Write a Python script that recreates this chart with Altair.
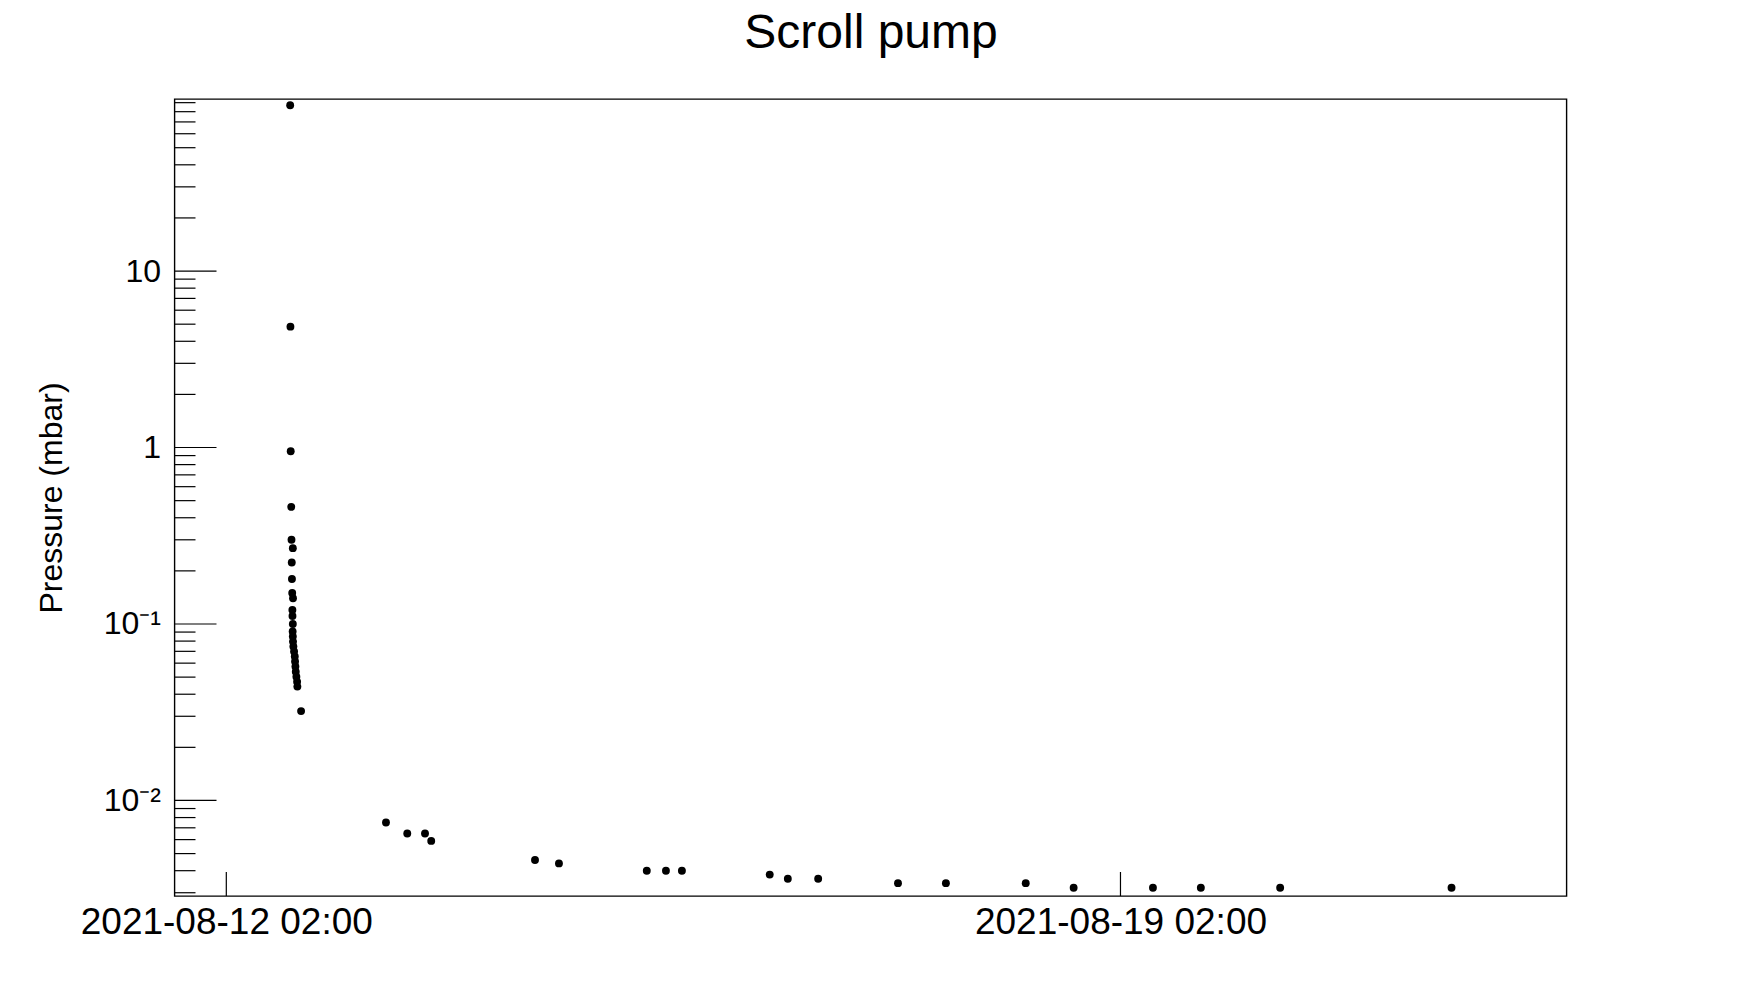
import altair as alt
import pandas as pd

# ---- data ----
times = [
    "2021-08-12T14:00:00Z", "2021-08-12T14:03:00Z", "2021-08-12T14:06:00Z",
    "2021-08-12T14:12:00Z", "2021-08-12T14:15:00Z", "2021-08-12T14:30:00Z",
    "2021-08-12T14:18:00Z", "2021-08-12T14:20:00Z", "2021-08-12T14:23:00Z",
    "2021-08-12T14:32:00Z", "2021-08-12T14:25:00Z", "2021-08-12T14:26:00Z",
    "2021-08-12T14:30:00Z", "2021-08-12T14:28:00Z", "2021-08-12T14:30:00Z",
    "2021-08-12T14:32:00Z", "2021-08-12T14:36:00Z", "2021-08-12T14:44:00Z",
    "2021-08-12T14:52:00Z", "2021-08-12T14:55:00Z", "2021-08-12T14:59:00Z",
    "2021-08-12T15:03:00Z", "2021-08-12T15:10:00Z", "2021-08-12T15:18:00Z",
    "2021-08-12T15:21:00Z", "2021-08-12T16:03:00Z",
    "2021-08-13T08:00:00Z", "2021-08-13T12:00:00Z", "2021-08-13T15:20:00Z",
    "2021-08-13T16:30:00Z", "2021-08-14T12:00:00Z", "2021-08-14T16:30:00Z",
    "2021-08-15T09:00:00Z", "2021-08-15T12:36:00Z", "2021-08-15T15:36:00Z",
    "2021-08-16T08:06:00Z", "2021-08-16T11:30:00Z", "2021-08-16T17:12:00Z",
    "2021-08-17T08:12:00Z", "2021-08-17T17:12:00Z", "2021-08-18T08:12:00Z",
    "2021-08-18T17:12:00Z", "2021-08-19T08:06:00Z", "2021-08-19T17:06:00Z",
    "2021-08-20T08:00:00Z", "2021-08-21T16:12:00Z",
]
pressure = [
    87.0, 4.84, 0.953,
    0.461, 0.300, 0.269,
    0.223, 0.180, 0.150,
    0.140, 0.120, 0.111,
    0.100, 0.0906, 0.0849,
    0.0795, 0.0745, 0.0698,
    0.0654, 0.0613, 0.0574,
    0.0537, 0.0503, 0.0471,
    0.0442, 0.0321,
    0.0075, 0.0065, 0.0065,
    0.0059, 0.0046, 0.0044,
    0.0040, 0.0040, 0.0040,
    0.0038, 0.0036, 0.0036,
    0.0034, 0.0034, 0.0034,
    0.0032, 0.0032, 0.0032,
    0.0032, 0.0032,
]

y_major = [0.01, 0.1, 1, 10]
y_minor = [0.003, 0.004, 0.005, 0.006, 0.007, 0.008, 0.009,
           0.02, 0.03, 0.04, 0.05, 0.06, 0.07, 0.08, 0.09,
           0.2, 0.3, 0.4, 0.5, 0.6, 0.7, 0.8, 0.9,
           2, 3, 4, 5, 6, 7, 8, 9,
           20, 30, 40, 50, 60, 70, 80, 90]
x_major = ["2021-08-12T02:00:00Z", "2021-08-19T02:00:00Z"]
title_text = ["Scroll pump"]

W, H = 1392, 797
FONT = "Liberation Sans"

df = pd.DataFrame({"time": times, "p": pressure})
df_ymaj = pd.DataFrame({"v": y_major})
df_ymin = pd.DataFrame({"v": y_minor})
df_xmaj = pd.DataFrame({"t": x_major})
df_title = pd.DataFrame({"label": title_text})

xscale = alt.Scale(type="utc",
                   domain=[alt.DateTime(year=2021, month=8, date=11, hours=16, minutes=16, utc=True),
                           alt.DateTime(year=2021, month=8, date=22, hours=13, minutes=48, utc=True)])
yscale = alt.Scale(type="log", domain=[0.002875, 94.4])

label_expr = ("datum.value > 5 ? '10' : datum.value > 0.5 ? '1' : "
              "datum.value > 0.05 ? '10\u207b\u00b9' : '10\u207b\u00b2'")

points = alt.Chart(df).mark_circle(size=62, color="black", opacity=1).encode(
    x=alt.X("time:T", scale=xscale,
            axis=alt.Axis(values=[alt.DateTime(year=2021, month=8, date=12, hours=2, utc=True),
                                  alt.DateTime(year=2021, month=8, date=19, hours=2, utc=True)],
                          format="%Y-%m-%d %H:%M", title=None, labelFontSize=37,
                          labelFont=FONT, labelColor="black", labelPadding=8,
                          labelLimit=600,
                          ticks=False, domain=False, grid=False)),
    y=alt.Y("p:Q", scale=yscale,
            axis=alt.Axis(values=y_major, labelExpr=label_expr, title="Pressure (mbar)",
                          labelFontSize=32, labelFont=FONT, labelColor="black",
                          labelPadding=14, ticks=False, domain=False, grid=False,
                          titleFont=FONT, titleFontSize=32, titleFontWeight="normal",
                          titleColor="black", titleX=-106, titleY=H / 2,
                          titleBaseline="bottom", titleAngle=270)),
)

ymaj = alt.Chart(df_ymaj).mark_rule(color="black", strokeWidth=1.2).encode(
    y=alt.Y("v:Q", scale=yscale), x=alt.value(0), x2=alt.value(42))
ymin = alt.Chart(df_ymin).mark_rule(color="black", strokeWidth=1.2).encode(
    y=alt.Y("v:Q", scale=yscale), x=alt.value(0), x2=alt.value(21))
xmaj = alt.Chart(df_xmaj).mark_rule(color="black", strokeWidth=1.2).encode(
    x=alt.X("t:T", scale=xscale), y=alt.value(H), y2=alt.value(H - 24))

title = alt.Chart(df_title).mark_text(
    font=FONT, fontSize=48, color="black", align="center", baseline="alphabetic"
).encode(text="label:N", x=alt.value(W / 2 + 0.5), y=alt.value(-51))

chart = alt.layer(ymaj, ymin, xmaj, points, title).properties(
    width=W, height=H,
    background="white",
    autosize=alt.AutoSizeParams(type="none"),
    padding={"left": 166.5, "top": 91, "right": 20, "bottom": 90},
).configure_view(stroke="black", strokeWidth=1.4)

chart.save("out.html", embed_options={"renderer": "svg", "actions": False})
